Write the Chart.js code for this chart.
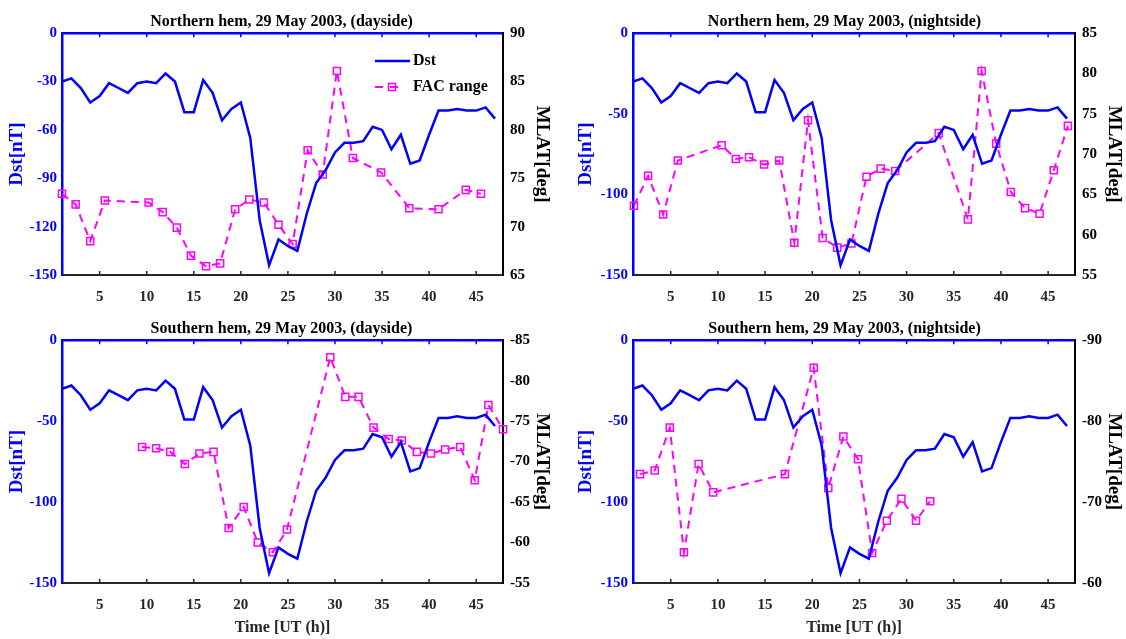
<!DOCTYPE html>
<html>
  <head>
    <meta charset="utf-8">
    <title>Dst and FAC range, 29 May 2003</title>
    <script src="https://cdn.jsdelivr.net/npm/chart.js@4.4.1/dist/chart.umd.min.js"></script>
    <style>
      body { margin: 0; background: #fff; }
      #wrap { position: relative; width: 1126px; height: 639px; }
      canvas { position: absolute; }
      .leg { position: absolute; font: bold 16px 'Liberation Serif', serif; color: #000; }
    </style>
  </head>
  <body>
    <div id="wrap">
      <canvas id="nDay" width="563" height="310" style="left:0;top:0"></canvas>
      <canvas id="nNight" width="563" height="310" style="left:563px;top:0"></canvas>
      <canvas id="sDay" width="563" height="329" style="left:0;top:310px"></canvas>
      <canvas id="sNight" width="563" height="329" style="left:563px;top:310px"></canvas>

      <svg class="leg" style="left:373px;top:54px" width="40" height="42">
        <line x1="2" y1="7" x2="37" y2="7" stroke="#0000ff" stroke-width="2.5"/>
        <line x1="2" y1="33" x2="28" y2="33" stroke="#ff00ff" stroke-width="2" stroke-dasharray="8,7"/>
        <rect x="15.5" y="29.5" width="7" height="7" fill="none" stroke="#ff00ff" stroke-width="1.5"/>
      </svg>
      <div class="leg" style="left:413px;top:51px">Dst</div>
      <div class="leg" style="left:413px;top:77px">FAC range</div>
    </div>

    <script type="text/javascript">
    var hours = [1, 2, 3, 4, 5, 6, 7, 8, 9, 10, 11, 12, 13, 14, 15, 16, 17, 18, 19, 20, 21, 22, 23, 24,
                 25, 26, 27, 28, 29, 30, 31, 32, 33, 34, 35, 36, 37, 38, 39, 40, 41, 42, 43, 44, 45, 46, 47]
    var dst = [-30, -28, -34, -43, -39, -31, -34, -37, -31, -30, -31, -25, -30, -49, -49, -29, -37, -54, -47, -43,
               -65, -116, -144, -128, -132, -135, -112, -93, -85, -74, -68, -68, -67, -58, -60, -72, -63, -81, -79,
               -63, -48, -48, -47, -48, -48, -46, -53]

    var xTicks = [5, 10, 15, 20, 25, 30, 35, 40, 45]

    // FAC range, northern hem dayside
    var nDayT = [1, 2.45, 4.0, 5.55, 10.2, 11.7, 13.2, 14.7, 16.3, 17.8, 19.4, 20.9, 22.45, 24.0, 25.5, 27.1,
                 28.7, 30.2, 31.9, 34.9, 37.9, 41.0, 43.9, 45.5]
    var nDay = [73.4, 72.3, 68.5, 72.7, 72.5, 71.5, 69.9, 67.0, 65.9, 66.2, 71.8, 72.8, 72.5, 70.2, 68.2, 77.9,
                75.4, 86.1, 77.1, 75.6, 71.9, 71.8, 73.8, 73.4]

    // northern hem nightside
    var nNightT = [1.1, 2.6, 4.2, 5.75, 10.4, 11.9, 13.3, 14.9, 16.5, 18.1, 19.55, 21.1, 22.65, 24.15, 25.75,
                   27.25, 28.8, 33.4, 36.5, 37.95, 39.5, 41.05, 42.55, 44.1, 45.6, 47.1]
    var nNight = [63.6, 67.3, 62.5, 69.2, 71.1, 69.4, 69.6, 68.7, 69.2, 59.0, 74.2, 59.6, 58.4, 58.9, 67.2,
                  68.2, 67.9, 72.6, 61.9, 80.3, 71.3, 65.3, 63.3, 62.6, 68.0, 73.5]

    // southern hem dayside
    var sDayT = [9.5, 11.0, 12.5, 14.05, 15.6, 17.1, 18.7, 20.3, 21.8, 23.4, 24.9, 29.5, 31.1, 32.5, 34.1,
                 35.7, 37.1, 38.7, 40.2, 41.7, 43.3, 44.85, 46.3, 47.85]
    var sDay = [-71.8, -71.65, -71.2, -69.7, -71.0, -71.2, -61.8, -64.4, -60.0, -58.8, -61.6, -82.9, -78.0,
                -78.0, -74.2, -72.8, -72.6, -71.2, -71.0, -71.5, -71.8, -67.7, -77.0, -74.0]

    // southern hem nightside
    var sNightT = [1.75, 3.3, 4.9, 6.4, 7.95, 9.5, 17.1, 20.15, 21.7, 23.3, 24.85, 26.35, 27.9, 29.45, 31.0, 32.5]
    var sNight = [-73.45, -73.9, -79.2, -63.8, -74.7, -71.2, -73.45, -86.6, -71.75, -78.1, -75.3, -63.7,
                  -67.7, -70.4, -67.7, -70.1]

    var blue = "#0000ff"
    var magenta = "#ff00ff"
    var dark = "#262626"
    var serif = "'Liberation Serif', 'Times New Roman', serif"

    function pts(xs, ys) {
      return xs.map(function(x, i) { return {x: x, y: ys[i]} })
    }

    // small inward tick marks on bottom and top edges, like matlab
    var inTicks = {
      id: 'inTicks',
      afterDatasetsDraw: function(chart) {
        var ctx = chart.ctx, a = chart.chartArea, x = chart.scales.x
        ctx.save()
        ctx.lineWidth = 1.5
        x.ticks.forEach(function(t) {
          var px = x.getPixelForValue(t.value)
          ctx.strokeStyle = dark
          ctx.beginPath(); ctx.moveTo(px, a.bottom); ctx.lineTo(px, a.bottom - 4); ctx.stroke()
          ctx.strokeStyle = blue
          ctx.beginPath(); ctx.moveTo(px, a.top); ctx.lineTo(px, a.top + 4); ctx.stroke()
        })
        ctx.restore()
      }
    }

    function panel(id, p) {
      var fixW = function(w) { return function(s) { s.width = w } }
      var fixH = function(h) { return function(s) { s.height = h } }
      return new Chart(document.getElementById(id), {
        type: 'line',
        data: {
          datasets: [
            {
              label: "Dst",
              data: pts(hours, dst),
              borderColor: blue,
              borderWidth: 2.5,
              pointRadius: 0,
              yAxisID: 'y'
            },
            {
              label: "FAC range",
              data: pts(p.facT, p.fac),
              borderColor: magenta,
              borderWidth: 2,
              borderDash: [8, 6],
              pointStyle: 'rect',
              pointRadius: 5,
              pointBorderWidth: 1.5,
              pointBorderColor: magenta,
              pointBackgroundColor: "rgba(0,0,0,0)",
              clip: false,
              yAxisID: 'y1'
            }
          ]
        },
        options: {
          responsive: false,
          animation: false,
          layout: { padding: 0 },
          plugins: {
            legend: { display: false },
            tooltip: { enabled: false },
            title: {
              display: true,
              text: p.title,
              color: "#000",
              font: { family: serif, size: 16, weight: 'bold' },
              padding: { top: p.titleTop, bottom: 2 }
            }
          },
          scales: {
            x: {
              type: 'linear',
              min: 1,
              max: 47.85,
              afterBuildTicks: function(s) { s.ticks = xTicks.map(function(v) { return {value: v} }) },
              afterFit: fixH(p.xH),
              grid: { display: false, drawTicks: false },
              border: { color: dark, width: 2 },
              ticks: { color: dark, padding: 13, font: { family: serif, size: 15, weight: 'bold' } },
              title: {
                display: p.xTitle,
                text: "Time [UT (h)]",
                color: dark,
                font: { family: serif, size: 16, weight: 'bold' },
                padding: { top: 0, bottom: 2 }
              }
            },
            xTop: {
              type: 'linear',
              position: 'top',
              min: 1,
              max: 47.85,
              afterFit: fixH(0),
              grid: { display: false, drawTicks: false },
              border: { color: blue, width: 2.5 },
              ticks: { display: false }
            },
            y: {
              position: 'left',
              min: -150,
              max: 0,
              afterFit: fixW(p.yW),
              grid: { display: false, drawTicks: false },
              border: { color: blue, width: 2.5 },
              ticks: { stepSize: p.dstStep, color: blue, padding: 5, font: { family: serif, size: 15, weight: 'bold' } },
              title: {
                display: true,
                text: "Dst[nT]",
                color: blue,
                font: { family: serif, size: 19, weight: 'bold' },
                padding: { top: p.yTitlePad, bottom: 0 }
              }
            },
            y1: {
              position: 'right',
              min: p.facMin,
              max: p.facMax,
              reverse: p.reverse,
              afterFit: fixW(p.y1W),
              grid: { display: false, drawTicks: false },
              border: { color: "#000", width: 2 },
              ticks: { stepSize: p.facStep, color: "#000", padding: 7, font: { family: serif, size: 15, weight: 'bold' } },
              title: {
                display: true,
                text: "MLAT[deg]",
                color: "#000",
                font: { family: serif, size: 19, weight: 'bold' },
                padding: { top: p.y1TitlePad, bottom: 0 }
              }
            }
          }
        },
        plugins: [inTicks]
      })
    }

    var c1 = panel("nDay", {
      title: "Northern hem, 29 May 2003, (dayside)", titleTop: 12, xH: 35, xTitle: false,
      yW: 62, y1W: 60, yTitlePad: 6, y1TitlePad: 10,
      facT: nDayT, fac: nDay, dstStep: 30, facMin: 65, facMax: 90, facStep: 5, reverse: false
    })
    var c2 = panel("nNight", {
      title: "Northern hem, 29 May 2003, (nightside)", titleTop: 12, xH: 35, xTitle: false,
      yW: 70, y1W: 51, yTitlePad: 12, y1TitlePad: 1,
      facT: nNightT, fac: nNight, dstStep: 50, facMin: 55, facMax: 85, facStep: 5, reverse: false
    })
    var c3 = panel("sDay", {
      title: "Southern hem, 29 May 2003, (dayside)", titleTop: 9, xH: 56, xTitle: true,
      yW: 62, y1W: 60, yTitlePad: 6, y1TitlePad: 10,
      facT: sDayT, fac: sDay, dstStep: 50, facMin: -85, facMax: -55, facStep: 5, reverse: true
    })
    var c4 = panel("sNight", {
      title: "Southern hem, 29 May 2003, (nightside)", titleTop: 9, xH: 56, xTitle: true,
      yW: 70, y1W: 51, yTitlePad: 12, y1TitlePad: 1,
      facT: sNightT, fac: sNight, dstStep: 50, facMin: -90, facMax: -60, facStep: 10, reverse: true
    })
    </script>
  </body>
</html>
